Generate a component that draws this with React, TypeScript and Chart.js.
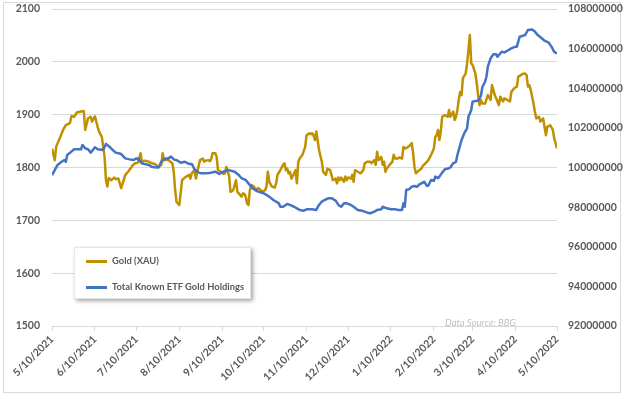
import React, { useEffect, useRef } from "react";
import { Chart, registerables } from "chart.js";

Chart.register(...registerables);

// X positions are day offsets from 5/10/2021
const goldDays = [0, 2, 3, 6, 8, 10, 13, 14, 16, 18, 21, 23, 24, 26, 28, 29, 31, 33, 34, 36, 38, 39, 40, 41, 43, 45, 46, 48, 50, 53, 55, 58, 60, 62, 64, 65, 67, 70, 72, 74, 77, 79, 80, 81, 84, 87, 88, 89, 90, 92, 93, 94, 96, 99, 100, 101, 103, 104, 105, 107, 109, 110, 111, 113, 114, 115, 116, 118, 119, 120, 121, 122, 124, 125, 126, 128, 129, 131, 132, 133, 134, 135, 137, 138, 139, 140, 141, 142, 143, 144, 146, 147, 149, 151, 152, 154, 155, 156, 157, 159, 161, 162, 163, 165, 167, 168, 169, 170, 171, 172, 173, 175, 176, 177, 178, 179, 181, 183, 184, 186, 187, 188, 189, 190, 191, 192, 193, 195, 196, 198, 199, 201, 202, 203, 205, 206, 207, 208, 209, 211, 212, 213, 214, 216, 217, 218, 219, 221, 223, 225, 226, 228, 230, 231, 233, 234, 235, 236, 238, 239, 240, 241, 242, 244, 246, 247, 248, 250, 251, 253, 254, 255, 257, 259, 260, 261, 262, 263, 265, 267, 268, 270, 272, 274, 275, 276, 277, 278, 279, 280, 281, 282, 284, 286, 287, 288, 290, 291, 292, 293, 294, 295, 296, 297, 299, 300, 301, 302, 303, 304, 306, 307, 308, 309, 310, 311, 313, 315, 317, 318, 320, 322, 323, 324, 326, 327, 329, 331, 332, 334, 336, 337, 339, 340, 342, 343, 344, 345, 346, 348, 349, 350, 352, 353, 355, 356, 357, 358, 360, 362, 363, 365];
const goldValues = [1836, 1814, 1839, 1858, 1871, 1880, 1884, 1897, 1896, 1904, 1906, 1907, 1871, 1893, 1896, 1887, 1897, 1877, 1868, 1858, 1820, 1776, 1764, 1780, 1776, 1781, 1778, 1779, 1761, 1786, 1792, 1803, 1808, 1809, 1827, 1811, 1813, 1811, 1808, 1807, 1801, 1805, 1827, 1814, 1814, 1808, 1792, 1757, 1735, 1729, 1751, 1776, 1781, 1786, 1779, 1789, 1795, 1779, 1792, 1814, 1817, 1811, 1813, 1814, 1812, 1815, 1827, 1827, 1820, 1795, 1794, 1792, 1788, 1789, 1801, 1784, 1754, 1757, 1767, 1776, 1754, 1751, 1745, 1751, 1750, 1745, 1732, 1729, 1757, 1767, 1764, 1757, 1761, 1757, 1754, 1757, 1764, 1792, 1773, 1764, 1762, 1770, 1786, 1795, 1805, 1808, 1795, 1798, 1789, 1792, 1779, 1789, 1795, 1770, 1811, 1817, 1824, 1839, 1861, 1865, 1863, 1865, 1861, 1852, 1868, 1852, 1833, 1811, 1792, 1786, 1798, 1795, 1786, 1776, 1779, 1770, 1781, 1776, 1781, 1773, 1783, 1776, 1781, 1779, 1786, 1773, 1795, 1792, 1789, 1795, 1808, 1811, 1811, 1808, 1814, 1805, 1830, 1814, 1820, 1805, 1811, 1792, 1798, 1805, 1811, 1824, 1817, 1817, 1819, 1817, 1839, 1836, 1838, 1843, 1846, 1827, 1801, 1789, 1794, 1798, 1803, 1808, 1814, 1824, 1830, 1836, 1858, 1861, 1871, 1852, 1868, 1896, 1899, 1896, 1909, 1896, 1906, 1890, 1896, 1909, 1928, 1943, 1937, 1969, 1978, 1997, 2022, 2051, 1997, 1994, 1978, 1959, 1937, 1918, 1928, 1921, 1921, 1937, 1928, 1956, 1937, 1925, 1918, 1934, 1925, 1931, 1928, 1925, 1943, 1950, 1953, 1972, 1975, 1977, 1978, 1975, 1953, 1956, 1947, 1921, 1906, 1893, 1896, 1887, 1893, 1877, 1861, 1877, 1880, 1871, 1855, 1836];

const etfDays = [0, 2, 4, 7, 9, 10, 11, 14, 16, 19, 21, 22, 24, 26, 28, 31, 33, 37, 39, 42, 44, 46, 48, 50, 53, 56, 59, 61, 62, 65, 67, 70, 72, 74, 77, 79, 82, 84, 86, 88, 91, 93, 96, 99, 101, 103, 106, 108, 112, 115, 118, 121, 124, 125, 128, 130, 132, 135, 137, 140, 142, 145, 147, 149, 153, 157, 160, 164, 165, 167, 170, 172, 175, 177, 179, 182, 184, 187, 188, 191, 193, 195, 197, 200, 202, 205, 207, 209, 211, 213, 216, 218, 221, 224, 228, 230, 233, 235, 238, 239, 242, 245, 248, 250, 253, 254, 255, 256, 258, 260, 262, 264, 265, 267, 269, 271, 272, 274, 276, 277, 279, 280, 282, 284, 287, 288, 290, 292, 293, 294, 296, 298, 300, 301, 302, 303, 304, 306, 308, 310, 311, 313, 314, 315, 317, 319, 321, 322, 325, 327, 330, 332, 335, 336, 338, 340, 342, 344, 347, 349, 351, 354, 356, 359, 361, 363, 365];
const etfValues = [99620000, 99870000, 100130000, 100290000, 100380000, 100290000, 100630000, 100800000, 100920000, 100920000, 100920000, 101140000, 100970000, 100920000, 100750000, 101020000, 100920000, 100880000, 101190000, 101020000, 100880000, 100750000, 100720000, 100680000, 100460000, 100410000, 100380000, 100460000, 100460000, 100210000, 100180000, 100130000, 100040000, 100010000, 100000000, 100290000, 100460000, 100460000, 100550000, 100410000, 100340000, 100240000, 100290000, 100180000, 100180000, 99910000, 99740000, 99710000, 99710000, 99740000, 99790000, 99670000, 99790000, 99820000, 99870000, 99820000, 99790000, 99620000, 99460000, 99370000, 99200000, 98950000, 98870000, 98780000, 98700000, 98530000, 98360000, 98190000, 98020000, 98020000, 98160000, 98110000, 98020000, 97940000, 97860000, 97820000, 97890000, 97890000, 97890000, 97860000, 98110000, 98280000, 98360000, 98450000, 98450000, 98330000, 98110000, 98020000, 98190000, 98190000, 98110000, 98020000, 97860000, 97820000, 97720000, 97690000, 97770000, 97860000, 97890000, 98020000, 97940000, 97890000, 97890000, 97860000, 97860000, 98190000, 98020000, 98870000, 98900000, 99030000, 99070000, 99030000, 99120000, 99200000, 99280000, 99070000, 99090000, 99370000, 99330000, 99540000, 99460000, 99540000, 99740000, 99910000, 99960000, 100010000, 100210000, 100290000, 100630000, 100880000, 101390000, 101730000, 101980000, 102560000, 102730000, 102900000, 103320000, 103360000, 103370000, 103610000, 104050000, 104330000, 104580000, 105090000, 105510000, 105710000, 105710000, 105590000, 105840000, 105810000, 105930000, 106010000, 106100000, 106100000, 106600000, 106640000, 106690000, 106940000, 106970000, 106860000, 106690000, 106520000, 106400000, 106300000, 106100000, 105840000, 105760000];

const tickDays = [0, 31, 61, 92, 123, 153, 184, 214, 245, 276, 304, 335, 365];
const tickLabels = ["5/10/2021", "6/10/2021", "7/10/2021", "8/10/2021", "9/10/2021", "10/10/2021", "11/10/2021", "12/10/2021", "1/10/2022", "2/10/2022", "3/10/2022", "4/10/2022", "5/10/2022"];

const seriesNames = ["Gold (XAU)", "Total Known ETF Gold Holdings"];
const seriesColors = ["#BF9000", "#4472C4"];
const sourceNote = "Data Source: BBG";

const FONT = "Lato, 'Open Sans', sans-serif";

export default function App() {
  const canvasRef = useRef<HTMLCanvasElement | null>(null);

  useEffect(() => {
    const canvas = canvasRef.current;
    if (!canvas) return;
    const tickFont = { family: FONT, size: 10.5, weight: "bold" as const };
    const chart = new Chart(canvas, {
      type: "line",
      data: {
        datasets: [
          {
            label: seriesNames[0],
            data: goldDays.map((d, i) => ({ x: d, y: goldValues[i] })),
            borderColor: seriesColors[0],
            backgroundColor: seriesColors[0],
            borderWidth: 2.5,
            pointRadius: 0,
            tension: 0,
            yAxisID: "y",
            order: 2,
            borderJoinStyle: "round",
          },
          {
            label: seriesNames[1],
            data: etfDays.map((d, i) => ({ x: d, y: etfValues[i] })),
            borderColor: seriesColors[1],
            backgroundColor: seriesColors[1],
            borderWidth: 2.5,
            pointRadius: 0,
            tension: 0,
            yAxisID: "y1",
            order: 1,
            borderJoinStyle: "round",
          },
        ],
      },
      options: {
        animation: false,
        responsive: false,
        maintainAspectRatio: false,
        layout: { padding: { top: 9, left: 0, right: 0, bottom: 0 } },
        plugins: {
          legend: { display: false },
          tooltip: { enabled: false },
        },
        scales: {
          x: {
            type: "linear",
            min: 0,
            max: 365,
            afterBuildTicks: (scale: any) => {
              scale.ticks = tickDays.map((v) => ({ value: v }));
            },
            afterFit: (scale: any) => {
              scale.height = 69;
            },
            ticks: {
              autoSkip: false,
              maxRotation: 45,
              minRotation: 45,
              color: "#595959",
              font: tickFont,
              padding: 2,
              callback: (_v: any, i: number) => tickLabels[i],
            },
            grid: {
              drawOnChartArea: false,
              drawTicks: true,
              tickLength: 5,
              color: "#D9D9D9",
            },
            border: { display: true, color: "#D9D9D9", width: 1 },
          },
          y: {
            type: "linear",
            position: "left",
            min: 1500,
            max: 2100,
            afterFit: (scale: any) => {
              scale.width = 52;
            },
            ticks: {
              stepSize: 100,
              color: "#595959",
              font: tickFont,
              padding: 0,
              callback: (v: any) => String(Math.round(Number(v))),
            },
            grid: {
              color: "#D9D9D9",
              lineWidth: 1,
              drawTicks: true,
              tickLength: 12,
              tickColor: "rgba(0,0,0,0)",
            },
            border: { display: false },
          },
          y1: {
            type: "linear",
            position: "right",
            min: 92000000,
            max: 108000000,
            afterFit: (scale: any) => {
              scale.width = 67;
            },
            ticks: {
              stepSize: 2000000,
              color: "#595959",
              font: tickFont,
              padding: 0,
              callback: (v: any) => String(Math.round(Number(v))),
            },
            grid: {
              drawOnChartArea: false,
              drawTicks: true,
              tickLength: 11,
              tickColor: "rgba(0,0,0,0)",
            },
            border: { display: false },
          },
        },
      },
    });
    return () => chart.destroy();
  }, []);

  const legendText: React.CSSProperties = {
    position: "absolute",
    left: 37,
    fontFamily: FONT,
    fontSize: 9.4,
    fontWeight: 700,
    color: "#595959",
    whiteSpace: "nowrap",
    lineHeight: "12px",
  };

  return (
    <div style={{ position: "fixed", left: 0, top: 0, width: 624, height: 395, background: "#fff", overflow: "hidden" }}>
      <div
        style={{
          position: "absolute",
          left: 3,
          top: 2,
          width: 618,
          height: 391,
          border: "1px solid #D9D9D9",
          boxSizing: "border-box",
        }}
      />
      <canvas ref={canvasRef} width={624} height={395} style={{ position: "absolute", left: 0, top: 0, width: 624, height: 395 }} />
      <div
        style={{
          position: "absolute",
          left: 74,
          top: 247,
          width: 177,
          height: 52,
          background: "#fff",
          border: "1px solid #E6E6E6",
          boxSizing: "border-box",
          boxShadow: "2px 2px 4px rgba(0,0,0,0.35)",
        }}
      >
        <div style={{ position: "absolute", left: 11, top: 12, width: 21, height: 2.5, background: seriesColors[0] }} />
        <div style={{ ...legendText, top: 7 }}>{seriesNames[0]}</div>
        <div style={{ position: "absolute", left: 11, top: 38, width: 21, height: 2.5, background: seriesColors[1] }} />
        <div style={{ ...legendText, top: 33 }}>{seriesNames[1]}</div>
      </div>
      <div
        style={{
          position: "absolute",
          left: 445,
          top: 317,
          fontFamily: FONT,
          fontSize: 9.5,
          fontStyle: "italic",
          color: "#BFBFBF",
          whiteSpace: "nowrap",
          lineHeight: "12px",
        }}
      >
        {sourceNote}
      </div>
    </div>
  );
}
